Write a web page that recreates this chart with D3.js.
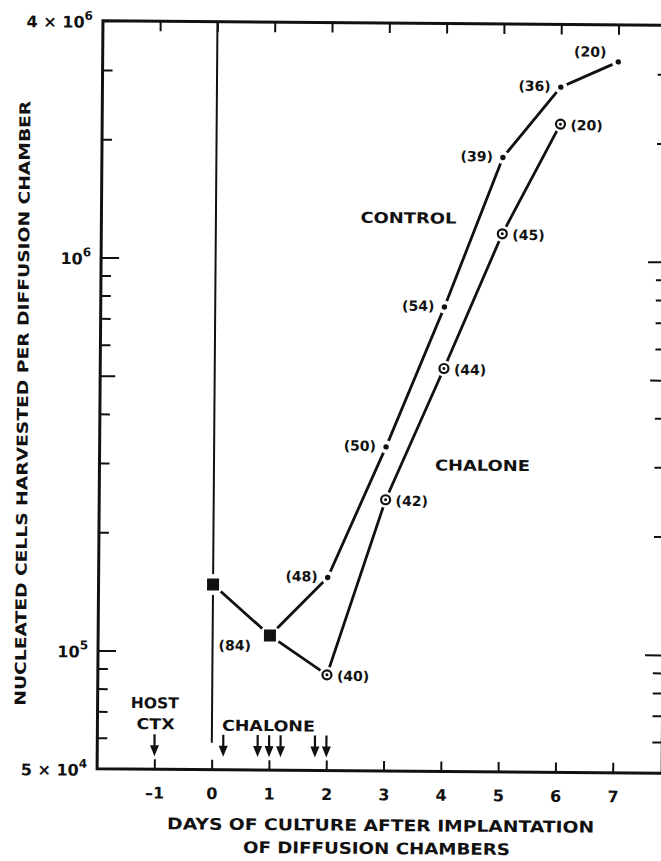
<!DOCTYPE html>
<html>
<head>
<meta charset="utf-8">
<script src="https://cdn.jsdelivr.net/npm/d3@7"></script>
<style>
body{margin:0;background:#fff;}
svg text{font-family:"DejaVu Sans",sans-serif;font-weight:bold;fill:#111;}
</style>
</head>
<body>
<svg id="chart" width="661" height="861"></svg>
<script>
// values: day of culture vs cells per chamber (log scale)
var sharedDays = [0, 1];
var sharedCells = [1.48e5, 1.10e5];
var sharedN = [84];
var controlDays = [2, 3, 4, 5, 6, 7];
var controlCells = [1.55e5, 3.34e5, 7.6e5, 1.83e6, 2.77e6, 3.22e6];
var controlN = [48, 50, 54, 39, 36, 20];
var chaloneDays = [2, 3, 4, 5, 6];
var chaloneCells = [8.76e4, 2.45e5, 5.3e5, 1.17e6, 2.23e6];
var chaloneN = [40, 42, 44, 45, 20];
var dayTicks = [-1, 0, 1, 2, 3, 4, 5, 6, 7];
var dayLabels = ["\u20131", "0", "1", "2", "3", "4", "5", "6", "7"];
var hostCtxDays = [-1];
var chaloneDoseDays = [0.2, 0.8, 1.0, 1.2, 1.8, 2.0];
var yMajor = [1e5, 1e6];
var yMid = [5e5];
var yMinor = [6e4, 7e4, 8e4, 9e4, 2e5, 3e5, 4e5, 6e5, 7e5, 8e5, 9e5, 2e6, 3e6];
var yLabelValues = [5e4, 1e5, 1e6, 4e6];
var yLabelBase = ["5 \u00d7 10", "10", "10", "4 \u00d7 10"];
var yLabelExp = ["4", "5", "6", "6"];

var svg = d3.select("#chart");
svg.append("rect").attr("width", 661).attr("height", 861).attr("fill", "#fff");
// the scan is tilted a little, so the whole plot is turned slightly
var g = svg.append("g").attr("transform", "rotate(0.45,380,400)");

var plotLeft = 100, plotRight = 665, plotTop = 23, plotBottom = 771;
var x = d3.scaleLinear().domain([-1, 7]).range([157.2, 615.6]);
var y = d3.scaleLog().domain([5e4, 4e6]).range([plotBottom, plotTop]);

function cleanAxis(sel){
  sel.select(".domain").remove();
  sel.selectAll("line").attr("stroke", "#111").attr("stroke-width", 2);
}

// bottom ticks + labels
var xb = g.append("g").attr("transform", "translate(0," + plotBottom + ")")
  .call(d3.axisBottom(x).tickValues(dayTicks).tickSize(-10).tickPadding(18)
    .tickFormat(function(d, i){ return dayLabels[i]; }));
cleanAxis(xb);
xb.selectAll("text").attr("font-size", 16).attr("fill", "#111").attr("font-family", "DejaVu Sans").attr("font-weight", "bold");
// top ticks
var xt = g.append("g").attr("transform", "translate(0," + plotTop + ")")
  .call(d3.axisTop(x).tickValues(dayTicks).tickSize(-10).tickFormat(""));
cleanAxis(xt);

// left and right ticks
[[yMinor, 10], [yMid, 15], [yMajor, 18]].forEach(function(t){
  var l = g.append("g").attr("transform", "translate(" + plotLeft + ",0)")
    .call(d3.axisLeft(y).tickValues(t[0]).tickSize(-t[1]).tickFormat(""));
  cleanAxis(l);
  var r = g.append("g").attr("transform", "translate(" + plotRight + ",0)")
    .call(d3.axisRight(y).tickValues(t[0]).tickSize(-t[1]).tickFormat(""));
  cleanAxis(r);
});

// frame
g.append("path")
  .attr("d", "M720," + plotTop + "H" + plotLeft + "V" + plotBottom + "H720")
  .attr("fill", "none").attr("stroke", "#111").attr("stroke-width", 3);
g.append("line").attr("x1", plotRight).attr("x2", plotRight).attr("y1", plotTop).attr("y2", plotBottom)
  .attr("stroke", "#111").attr("stroke-width", 3);

// implantation line at day 0
g.append("line").attr("x1", x(0)).attr("x2", x(0)).attr("y1", plotTop).attr("y2", 744)
  .attr("stroke", "#111").attr("stroke-width", 2);

// y tick labels with exponents
yLabelValues.forEach(function(v, i){
  var t = g.append("text").attr("x", 90).attr("y", y(v) + 7)
    .attr("text-anchor", "end").attr("font-size", 16);
  t.append("tspan").text(yLabelBase[i]);
  t.append("tspan").attr("font-size", 12).attr("dy", -8).text(yLabelExp[i]);
});

// axis titles
g.append("text").attr("x", 384).attr("y", 831).attr("text-anchor", "middle")
  .attr("font-size", 16).attr("textLength", 427).attr("lengthAdjust", "spacingAndGlyphs")
  .text("DAYS OF CULTURE AFTER IMPLANTATION");
g.append("text").attr("x", 380).attr("y", 854).attr("text-anchor", "middle")
  .attr("font-size", 16).attr("textLength", 267).attr("lengthAdjust", "spacingAndGlyphs")
  .text("OF DIFFUSION CHAMBERS");
g.append("text").attr("transform", "translate(28,406) rotate(-90)").attr("text-anchor", "middle")
  .attr("font-size", 15).attr("textLength", 605).attr("lengthAdjust", "spacingAndGlyphs")
  .text("NUCLEATED CELLS HARVESTED PER DIFFUSION CHAMBER");

// series
var shared = sharedDays.map(function(d, i){ return {day: d, v: sharedCells[i]}; });
var control = controlDays.map(function(d, i){ return {day: d, v: controlCells[i], n: controlN[i]}; });
var chalone = chaloneDays.map(function(d, i){ return {day: d, v: chaloneCells[i], n: chaloneN[i]}; });
var line = d3.line().x(function(d){ return x(d.day); }).y(function(d){ return y(d.v); });
var lastShared = shared[shared.length - 1];
[shared, [lastShared].concat(control), [lastShared].concat(chalone)].forEach(function(s){
  g.append("path").attr("d", line(s)).attr("fill", "none")
    .attr("stroke", "#111").attr("stroke-width", 2.8);
});

// white gaps around markers, like the original drawing
function halo(data, r){
  g.selectAll(null).data(data).enter().append("circle")
    .attr("cx", function(d){ return x(d.day); }).attr("cy", function(d){ return y(d.v); })
    .attr("r", r).attr("fill", "#fff");
}
halo(shared, 10.5);
halo(control, 6.5);
halo(chalone, 8);

g.selectAll(null).data(shared).enter().append("rect")
  .attr("x", function(d){ return x(d.day) - 6; }).attr("y", function(d){ return y(d.v) - 6; })
  .attr("width", 12).attr("height", 12).attr("fill", "#111");
g.selectAll(null).data(control).enter().append("circle")
  .attr("cx", function(d){ return x(d.day); }).attr("cy", function(d){ return y(d.v); })
  .attr("r", 2.7).attr("fill", "#111");
g.selectAll(null).data(chalone).enter().append("circle")
  .attr("cx", function(d){ return x(d.day); }).attr("cy", function(d){ return y(d.v); })
  .attr("r", 4.5).attr("fill", "#fff").attr("stroke", "#111").attr("stroke-width", 2.2);
g.selectAll(null).data(chalone).enter().append("circle")
  .attr("cx", function(d){ return x(d.day); }).attr("cy", function(d){ return y(d.v); })
  .attr("r", 1.5).attr("fill", "#111");

// number of chambers next to each point
g.selectAll(null).data(control).enter().append("text")
  .attr("x", function(d, i){ return x(d.day) - (i == control.length - 1 ? 12 : 10); })
  .attr("y", function(d, i){ return y(d.v) + (i == control.length - 1 ? -5 : 4); })
  .attr("text-anchor", "end").attr("font-size", 14)
  .text(function(d){ return "(" + d.n + ")"; });
g.selectAll(null).data(chalone).enter().append("text")
  .attr("x", function(d){ return x(d.day) + 10; })
  .attr("y", function(d){ return y(d.v) + 6; })
  .attr("font-size", 14)
  .text(function(d){ return "(" + d.n + ")"; });
g.append("text").attr("x", x(1) - 19).attr("y", y(sharedCells[1]) + 15)
  .attr("text-anchor", "end").attr("font-size", 14).text("(" + sharedN[0] + ")");

// series names
g.append("text").attr("x", 407).attr("y", 223).attr("text-anchor", "middle")
  .attr("font-size", 15).attr("textLength", 96).attr("lengthAdjust", "spacingAndGlyphs").text("CONTROL");
g.append("text").attr("x", 483).attr("y", 470).attr("text-anchor", "middle")
  .attr("font-size", 15).attr("textLength", 95).attr("lengthAdjust", "spacingAndGlyphs").text("CHALONE");

// treatment arrows
function arrows(days){
  days.forEach(function(d){
    var ax = x(d);
    g.append("line").attr("x1", ax).attr("x2", ax).attr("y1", 736).attr("y2", 750)
      .attr("stroke", "#111").attr("stroke-width", 2.2);
    g.append("path").attr("d", "M" + (ax - 4.5) + ",747L" + (ax + 4.5) + ",747L" + ax + ",758Z")
      .attr("fill", "#111");
  });
}
arrows(hostCtxDays);
arrows(chaloneDoseDays);
g.append("text").attr("x", x(hostCtxDays[0])).attr("y", 710).attr("text-anchor", "middle")
  .attr("font-size", 15).attr("textLength", 48).attr("lengthAdjust", "spacingAndGlyphs").text("HOST");
g.append("text").attr("x", x(hostCtxDays[0]) + 1).attr("y", 731).attr("text-anchor", "middle")
  .attr("font-size", 15).attr("textLength", 38).attr("lengthAdjust", "spacingAndGlyphs").text("CTX");
g.append("text").attr("x", 271).attr("y", 732).attr("text-anchor", "middle")
  .attr("font-size", 15).attr("textLength", 93).attr("lengthAdjust", "spacingAndGlyphs").text("CHALONE");
</script>
</body>
</html>
